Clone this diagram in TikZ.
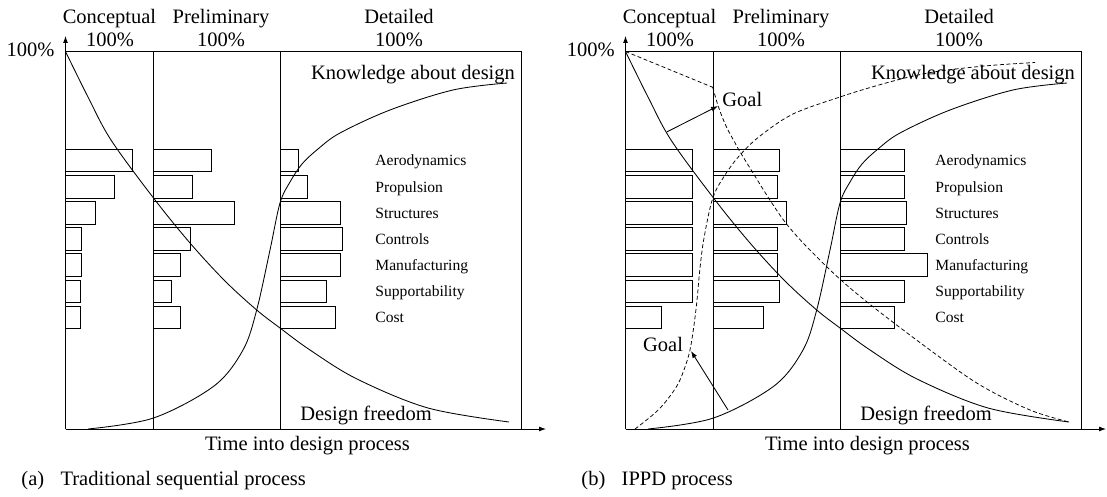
\documentclass[tikz,border=0pt]{standalone}
\usepackage{fontspec}
\setmainfont{Liberation Serif}
\usetikzlibrary{arrows.meta}

% common frame, phase headings, axis labels and discipline names of one panel
\newcommand\drawpanelframe{%
  \coordinate (O) at (65.5,429);
  \coordinate (ytip) at (65.5,36);
  \coordinate (xtip) at (546,429);
  \coordinate (tl) at (65.5,51.5);
  \coordinate (tr) at (521.5,51.5);
  \coordinate (br) at (521.5,429);
  \coordinate (s1t) at (153.5,51.5);
  \coordinate (s1b) at (153.5,429);
  \coordinate (s2t) at (280,51.5);
  \coordinate (s2b) at (280,429);
  \draw[axis] (O) -- (ytip);
  \draw[axis] (O) -- (xtip);
  \draw (tl) -- (tr) -- (br);
  \draw (s1t) -- (s1b);
  \draw (s2t) -- (s2b);
  \node[big, anchor=base east] (ymax) at (55,56.5) {100\%};
  \node[big, anchor=base] (ph1) at (109.5,24) {Conceptual};
  \node[big, anchor=base] (ph1v) at (110,46.5) {100\%};
  \node[big, anchor=base] (ph2) at (221,24) {Preliminary};
  \node[big, anchor=base] (ph2v) at (221,46.5) {100\%};
  \node[big, anchor=base] (ph3) at (399,24) {Detailed};
  \node[big, anchor=base] (ph3v) at (399,46.5) {100\%};
  \node[big, anchor=base] (know) at (413,80) {Knowledge about design};
  \node[big, anchor=base] (free) at (366,420.5) {Design freedom};
  \node[big, anchor=base] (time) at (307.5,450.5) {Time into design process};
  \foreach \t [count=\i from 0] in {Aerodynamics,Propulsion,Structures,Controls,Manufacturing,Supportability,Cost}
    \node[small] (lab\i) at (375,{149.5+26.1*\i+16.5}) {\t};
}

% one column of effort bars: start x, then the seven end x values
\newcommand\effortbars[2]{%
  \foreach \w [count=\i from 0] in {#2}
    \draw[bar] (#1,{149.5+26.1*\i}) rectangle (\w,{149.5+26.1*\i+22.4});
}

% the two solid curves shared by both panels
\newcommand\freedomcurve{%
  \draw plot[smooth, tension=0.55] coordinates {(65.5,51.5) (88,97) (111,140) (153.5,198) (190,243) (225,281) (256.7,310) (280,328) (310,350) (357,379) (428,408) (509,422)};
}
\newcommand\knowledgecurve{%
  \draw plot[smooth, tension=0.55] coordinates {(88,429) (153.5,418) (214,386) (243,350) (256.7,310) (270,250) (280,203) (290,182) (302,164) (318,149) (340,133) (390,110) (453,90) (507,83)};
}

\begin{document}
\begin{tikzpicture}[x=1pt, y=-1pt, line width=0.85pt,
  axis/.style={-{Latex[length=7pt,width=5pt]}},
  bar/.style={line width=0.85pt},
  big/.style={font=\fontsize{20.5}{24}\selectfont, inner sep=0pt},
  small/.style={font=\fontsize{15.6}{18}\selectfont, inner sep=0pt, anchor=base west},
  goalcurve/.style={dash pattern=on 4pt off 2.5pt, line width=0.75pt},
  goalarrow/.style={-{Latex[length=7pt,width=5pt]}}]
\useasboundingbox (0,0) rectangle (1107,497);

% ---------------- (a) traditional sequential process ----------------
\begin{scope}[name prefix=a-]
  \drawpanelframe
  \effortbars{65.5}{132.7,114.3,95.7,81.7,81,80.3,80}
  \effortbars{153.5}{211,192.3,234.3,190,180.7,171.3,180.7}
  \effortbars{280}{298,307.3,340,342.3,340,326,335}
  \freedomcurve
  \knowledgecurve
  \node[big, anchor=base west] (cap) at (21,485.5) {(a)\hspace{0.8em}Traditional sequential process};
\end{scope}

% ---------------- (b) IPPD process ----------------
\begin{scope}[xshift=560pt, name prefix=b-]
  \drawpanelframe
  \effortbars{65.5}{132.3,132.3,132.3,132.3,132.3,132.3,101.7}
  \effortbars{153.5}{219.3,217.3,226.7,217.3,217.3,219.3,203.3}
  \effortbars{280}{344,344,346.7,344,367.3,344,334.7}
  \freedomcurve
  \knowledgecurve
  % goal: design freedom kept longer
  \draw[goalcurve] (65.5,51.5) -- (152.7,87.3)
    plot[smooth, tension=0.55] coordinates {(152.7,87.3) (158.5,107) (166,126) (174,141) (185,160) (225,222) (267,267) (307,302) (370,350) (420,385) (470,410) (509,422)};
  % goal: knowledge gained earlier
  \draw[goalcurve] plot[smooth, tension=0.55] coordinates {(75,429) (95,413) (107,400) (118,384) (125,367) (130,350) (134,325) (137,300) (140,268) (144,238) (152.7,198.3) (165,175) (180,155) (200,136) (233,114) (280,97) (312,87) (347,77.5) (380,71) (430,65.5) (475,62.5)};
  \coordinate (g1from) at (106.7,132);
  \coordinate (g1to) at (158,106);
  \coordinate (g2from) at (168,410);
  \coordinate (g2to) at (131,351);
  \draw[goalarrow] (g1from) -- (g1to);
  \draw[goalarrow] (g2from) -- (g2to);
  \node[big, anchor=base west] (goal1) at (162,106.5) {Goal};
  \node[big, anchor=base west] (goal2) at (82.7,351) {Goal};
  \node[big, anchor=base west] (cap) at (21,485.5) {(b)\hspace{0.8em}IPPD process};
\end{scope}
\end{tikzpicture}
\end{document}
